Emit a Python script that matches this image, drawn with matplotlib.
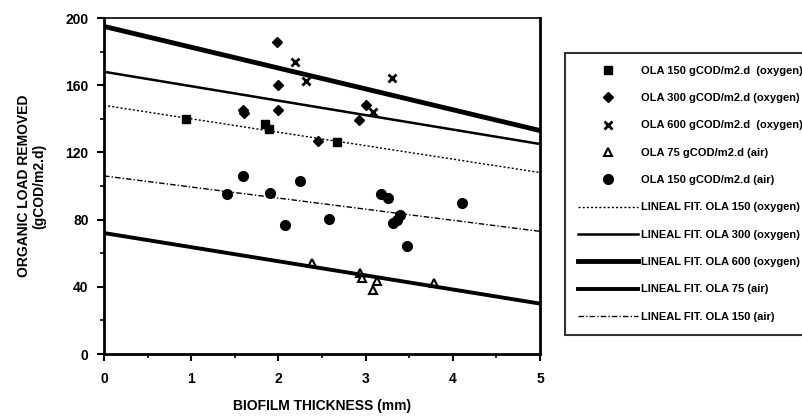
import matplotlib
matplotlib.use("Agg")
import matplotlib.pyplot as plt
import numpy as np
from matplotlib.ticker import MultipleLocator

# --- data ---
sq_x = [0.94, 1.85, 1.89, 2.67]
sq_y = [140, 137, 134, 126]

dia_x = [1.98, 2.00, 1.59, 1.61, 2.00, 2.45, 2.92, 3.00]
dia_y = [186, 160, 145, 143.5, 145, 127, 139, 148]

x6_x = [2.19, 2.32, 3.30, 3.08]
x6_y = [174, 162.5, 164.5, 144]

tri_x = [2.39, 2.94, 2.96, 3.13, 3.09, 3.78]
tri_y = [54, 48, 45, 43.6, 38, 42.5]

cir_x = [1.59, 2.25, 1.41, 1.90, 2.08, 2.58, 3.18, 3.26, 3.39, 3.36, 3.31, 3.47, 4.10]
cir_y = [106, 103, 95, 96, 77, 80.5, 95.4, 93, 83, 80, 78, 64, 90]

# linear fits: value at x=0 and x=5
fit_x = [0, 5]
fit150_oxy = [148, 108]
fit300_oxy = [168, 125]
fit600_oxy = [195, 133]
fit75_air = [72, 30]
fit150_air = [106, 73]

legend_labels = [
    "OLA 150 gCOD/m2.d  (oxygen)",
    "OLA 300 gCOD/m2.d (oxygen)",
    "OLA 600 gCOD/m2.d  (oxygen)",
    "OLA 75 gCOD/m2.d (air)",
    "OLA 150 gCOD/m2.d (air)",
    "LINEAL FIT. OLA 150 (oxygen)",
    "LINEAL FIT. OLA 300 (oxygen)",
    "LINEAL FIT. OLA 600 (oxygen)",
    "LINEAL FIT. OLA 75 (air)",
    "LINEAL FIT. OLA 150 (air)",
]

plt.rcParams['font.family'] = ['Liberation Sans', 'DejaVu Sans']
plt.rcParams['font.weight'] = 'bold'

fig = plt.figure(figsize=(8.02, 4.2), dpi=100)
ax = fig.add_axes([104/802, 1-354/420, (540-104)/802, (354-18)/420])

h1, = ax.plot(sq_x, sq_y, ls='none', marker='s', ms=6, color='black')
h2, = ax.plot(dia_x, dia_y, ls='none', marker='D', ms=5, color='black')
h3, = ax.plot(x6_x, x6_y, ls='none', marker='x', ms=6, mew=2, color='black')
h4, = ax.plot(tri_x, tri_y, ls='none', marker='^', ms=6, mfc='white', mec='black', mew=1.5)
h5, = ax.plot(cir_x, cir_y, ls='none', marker='o', ms=7, color='black')

l1, = ax.plot(fit_x, fit150_oxy, color='black', lw=1.0, ls=(0, (1.5, 1.5)))
l2, = ax.plot(fit_x, fit300_oxy, color='black', lw=1.8)
l3, = ax.plot(fit_x, fit600_oxy, color='black', lw=3.5)
l4, = ax.plot(fit_x, fit75_air, color='black', lw=2.8)
l5, = ax.plot(fit_x, fit150_air, color='black', lw=1.0, ls=(0, (4, 1.5, 1, 1.5)))

ax.set_xlim(0, 5)
ax.set_ylim(0, 200)
ax.xaxis.set_major_locator(MultipleLocator(1))
ax.xaxis.set_minor_locator(MultipleLocator(0.5))
ax.yaxis.set_major_locator(MultipleLocator(40))
ax.yaxis.set_minor_locator(MultipleLocator(20))
ax.tick_params(axis='both', which='major', direction='out', length=5, width=1.5,
               labelsize=10, pad=6)
ax.tick_params(axis='both', which='minor', direction='out', length=3, width=1.2)
ax.tick_params(axis='x', pad=8)
for lab in ax.get_xticklabels() + ax.get_yticklabels():
    lab.set_fontweight('heavy')

for s in ['left', 'bottom', 'right']:
    ax.spines[s].set_linewidth(2.0)
ax.spines['top'].set_linewidth(1.2)

ax.set_xlabel("BIOFILM THICKNESS (mm)", fontsize=10, fontweight='heavy', labelpad=9)
ax.set_ylabel("ORGANIC LOAD REMOVED\n(gCOD/m2.d)", fontsize=10, fontweight='heavy',
              labelpad=14, linespacing=1.1)

leg = fig.legend([h1, h2, h3, h4, h5, l1, l2, l3, l4, l5], legend_labels,
                 loc='upper left', bbox_to_anchor=(565/802, 1-53/420),
                 bbox_transform=fig.transFigure,
                 frameon=True, fancybox=False, edgecolor='black',
                 handlelength=5.4, handletextpad=0.25,
                 labelspacing=1.56, borderpad=1.15, borderaxespad=0,
                 prop={'weight': 'heavy', 'size': 8})
leg.get_frame().set_linewidth(1.5)

fig.savefig("out.png", dpi=100)
